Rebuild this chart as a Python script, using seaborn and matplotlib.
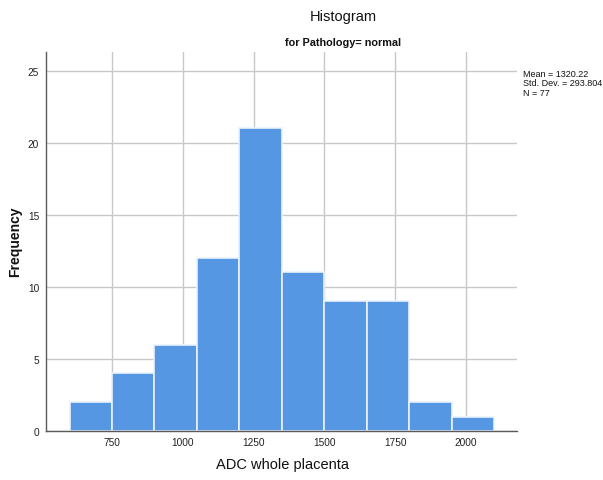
import numpy as np
import pandas as pd
import matplotlib
matplotlib.use("Agg")
import matplotlib.pyplot as plt
import seaborn as sns

# Histogram bins (ADC whole placenta) and their frequencies
bin_edges = [600, 750, 900, 1050, 1200, 1350, 1500, 1650, 1800, 1950, 2100]
counts = [2, 4, 6, 12, 21, 11, 9, 9, 2, 1]
x_ticks = [750, 1000, 1250, 1500, 1750, 2000]
y_ticks = [0, 5, 10, 15, 20, 25]
stats_lines = ["Mean = 1320.22", "Std. Dev. = 293.804", "N = 77"]

centers = [(a + b) / 2 for a, b in zip(bin_edges[:-1], bin_edges[1:])]
df = pd.DataFrame({"ADC": centers, "n": counts})

sns.set_style("white")
plt.rcParams["font.family"] = ["Liberation Sans", "DejaVu Sans"]

fig = plt.figure(figsize=(6.03, 4.81), dpi=100)
W, H = 603, 481
ax = fig.add_axes([46 / W, 1 - 432 / H, (517 - 46) / W, (432 - 53) / H])

sns.histplot(data=df, x="ADC", weights="n", bins=bin_edges, ax=ax,
             color="#5597E3", alpha=1.0, edgecolor="#EAF2FC", linewidth=1.2,
             zorder=3)

ax.set_xlim(517, 2180)
ax.set_ylim(0, 26.3)
ax.set_xticks(x_ticks)
ax.set_yticks(y_ticks)
ax.grid(True, color="#C8C8C8", linewidth=1.0, zorder=0)
ax.set_axisbelow(True)
for s in ["top", "right"]:
    ax.spines[s].set_visible(False)
for s in ["left", "bottom"]:
    ax.spines[s].set_color("#5A5A5A")
    ax.spines[s].set_linewidth(1.0)
    ax.spines[s].set_zorder(4)
ax.tick_params(axis="x", length=0, labelsize=7.3, colors="#222222", pad=4)
ax.tick_params(axis="y", length=0, labelsize=7.3, colors="#222222", pad=5)

ax.set_xlabel("ADC whole placenta", fontsize=10.5, color="#111111")
ax.set_ylabel("Frequency", fontsize=10, fontweight="bold", color="#111111")
ax.xaxis.set_label_coords((282 - 46) / 471, (432 - 465) / 379)
ax.yaxis.set_label_coords((15 - 46) / 471, (432 - 242) / 379)
ax.xaxis.label.set_va("center")
ax.yaxis.label.set_va("center")

fig.text(343 / W, 1 - 17 / H, "Histogram", ha="center", va="center",
         fontsize=10.5, color="#111111")
fig.text(343 / W, 1 - 43 / H, "for Pathology= normal", ha="center",
         va="center", fontsize=7.8, fontweight="bold", color="#111111")
fig.text(523 / W, 1 - 70 / H, "\n".join(stats_lines), ha="left", va="top",
         fontsize=6.5, color="#111111", linespacing=1.05)

fig.savefig("out.png", dpi=100)
